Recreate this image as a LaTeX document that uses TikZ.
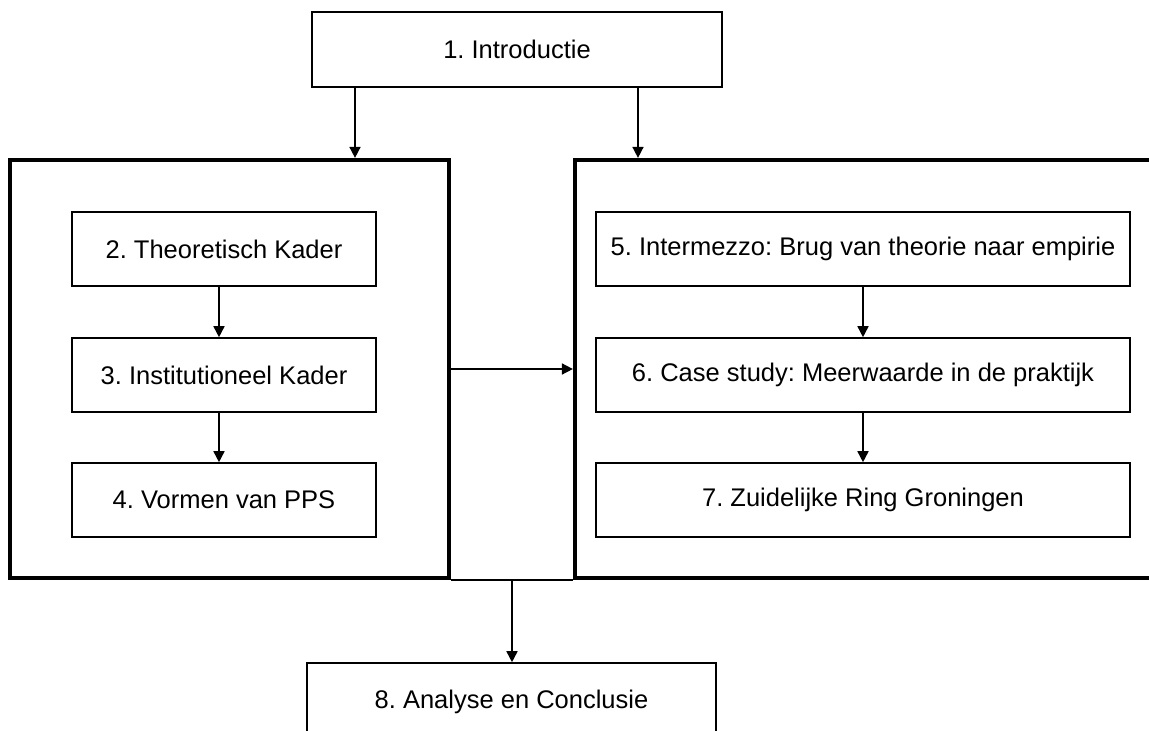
\documentclass[tikz,border=0pt]{standalone}
\usepackage{fontspec}
\setmainfont{Liberation Sans}
\usetikzlibrary{arrows.meta}
\frenchspacing
\tikzset{
  chapter/.style={draw, line width=1.6pt, fill=white, inner sep=0pt,
    font=\fontsize{25.5}{30}\selectfont},
  group/.style={draw, line width=4.2pt, inner sep=0pt},
  arr/.style={line width=1.6pt, -{Triangle[length=11pt,width=11pt]}},
  link/.style={line width=1.6pt}
}
\begin{document}
\begin{tikzpicture}[x=1pt,y=-1pt]
\useasboundingbox (0,0) rectangle (1149,731);
\clip (0,0) rectangle (1149,731);

% outer frames grouping the chapters
\node[group, minimum width=439pt, minimum height=418pt] (left) at (229.5,369) {};
\node[group, minimum width=585pt, minimum height=418pt] (right) at (867.5,369) {};

% chapter boxes
\node[chapter, minimum width=410pt, minimum height=75pt] (intro) at (517,49.5) {1. Introductie};
\node[chapter, minimum width=304pt, minimum height=74pt] (c2) at (224,249) {2. Theoretisch Kader};
\node[chapter, minimum width=304pt, minimum height=74pt] (c3) at (224,375) {3. Institutioneel Kader};
\node[chapter, minimum width=304pt, minimum height=74pt] (c4) at (224,500) {4. Vormen van PPS};
\node[chapter, minimum width=534pt, minimum height=74pt] (c5) at (863,249) {5. Intermezzo: Brug van theorie naar empirie};
\node[chapter, minimum width=534pt, minimum height=74pt] (c6) at (863,375) {6. Case study: Meerwaarde in de praktijk};
\node[chapter, minimum width=534pt, minimum height=74pt] (c7) at (863,500) {7. Zuidelijke Ring Groningen};
\node[chapter, minimum width=409pt, minimum height=78pt] (c8) at (511.5,702) {8. Analyse en Conclusie};

% connectors
\draw[arr] (355,0 |- intro.south) -- (355,0 |- left.north);
\draw[arr] (638,0 |- intro.south) -- (638,0 |- right.north);
\draw[arr] (219,0 |- c2.south) -- (219,0 |- c3.north);
\draw[arr] (219,0 |- c3.south) -- (219,0 |- c4.north);
\draw[arr] (c5.south) -- (c6.north);
\draw[arr] (c6.south) -- (c7.north);
\draw[arr] (left.east) -- (right.west);
\draw[link] (left.south east) -- (right.south west);
\draw[arr] (512,0 |- left.south) -- (512,0 |- c8.north);
\end{tikzpicture}
\end{document}
